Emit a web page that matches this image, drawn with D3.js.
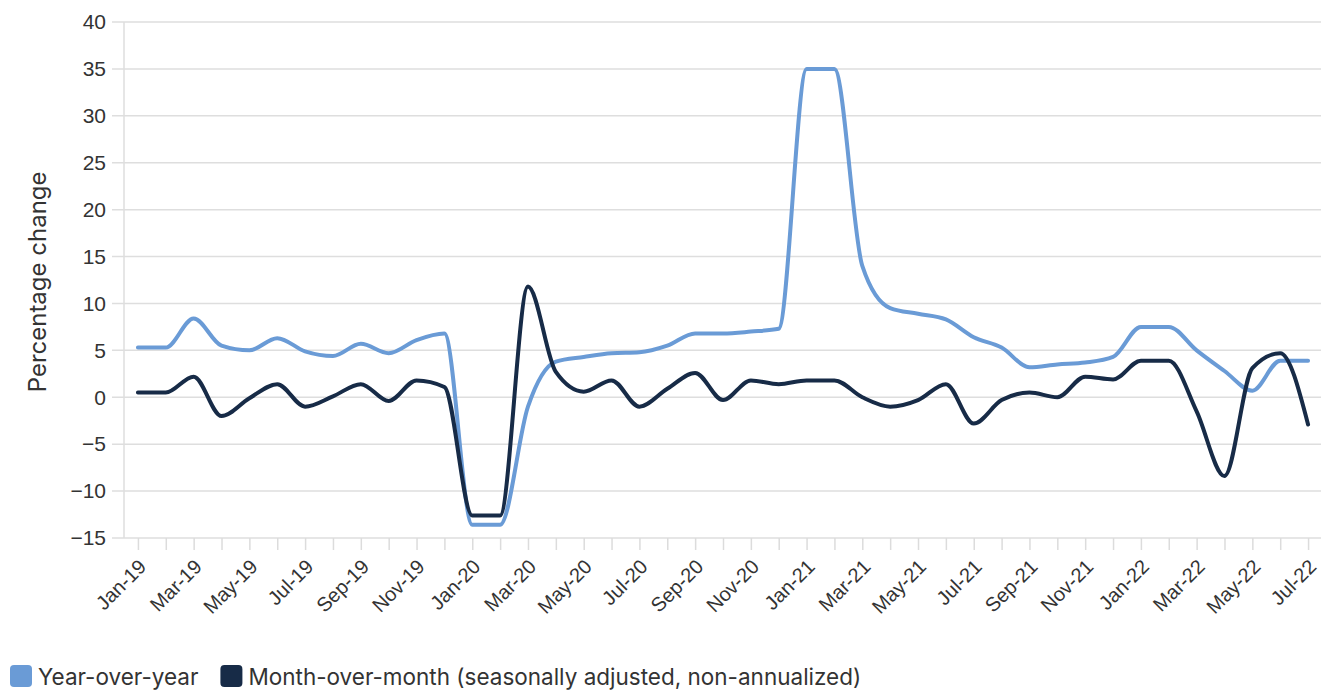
<!DOCTYPE html>
<html>
<head>
<meta charset="utf-8">
<script src="https://cdn.jsdelivr.net/npm/d3@7"></script>
<style>
  html, body { margin: 0; padding: 0; background: #fff; }
  svg { display: block; font-family: Inter, "Noto Sans", sans-serif; }
</style>
</head>
<body>
<svg id="chart" width="1322" height="690"></svg>
<script>
// Monthly CPI-style series, Jan 2019 – Jul 2022
const months = [
  "Jan-19","Feb-19","Mar-19","Apr-19","May-19","Jun-19","Jul-19","Aug-19","Sep-19","Oct-19","Nov-19","Dec-19",
  "Jan-20","Feb-20","Mar-20","Apr-20","May-20","Jun-20","Jul-20","Aug-20","Sep-20","Oct-20","Nov-20","Dec-20",
  "Jan-21","Feb-21","Mar-21","Apr-21","May-21","Jun-21","Jul-21","Aug-21","Sep-21","Oct-21","Nov-21","Dec-21",
  "Jan-22","Feb-22","Mar-22","Apr-22","May-22","Jun-22","Jul-22"
];

const yearOverYear = [
  5.3, 5.3, 8.4, 5.5, 5.0, 6.3, 4.9, 4.4, 5.7, 4.7, 6.1, 6.8,
  -13.6, -13.6, -1.0, 3.8, 4.3, 4.7, 4.8, 5.5, 6.8, 6.8, 7.0, 7.3,
  35.0, 35.0, 14.0, 9.5, 8.9, 8.3, 6.4, 5.3, 3.2, 3.5, 3.7, 4.3,
  7.5, 7.5, 5.0, 2.8, 0.7, 3.9, 3.9
];

const monthOverMonth = [
  0.5, 0.5, 2.2, -2.0, -0.1, 1.4, -1.0, 0.1, 1.4, -0.4, 1.8, 1.1,
  -12.6, -12.6, 11.8, 2.7, 0.6, 1.8, -1.0, 0.9, 2.6, -0.3, 1.8, 1.4,
  1.8, 1.8, 0.0, -1.0, -0.3, 1.4, -2.8, -0.3, 0.5, 0.0, 2.2, 1.9,
  3.9, 3.9, -1.5, -8.4, 3.1, 4.7, -2.9
];

const yTicks = [-15, -10, -5, 0, 5, 10, 15, 20, 25, 30, 35, 40];

const seriesNames = ["Year-over-year", "Month-over-month (seasonally adjusted, non-annualized)"];
const seriesColors = ["#6a9bd6", "#172b47"];

const svg = d3.select("#chart");
const plotLeft = 124, plotRight = 1322, plotTop = 22, plotBottom = 538;

const x = d3.scalePoint().domain(months).range([plotLeft, plotRight]).padding(0.5);
const y = d3.scaleLinear().domain([-15, 40]).range([plotBottom, plotTop]);

// Horizontal gridlines (extend slightly left of the axis like ticks)
svg.append("g")
  .selectAll("line")
  .data(yTicks)
  .join("line")
  .attr("x1", plotLeft - 12)
  .attr("x2", plotRight - 1)
  .attr("y1", d => y(d))
  .attr("y2", d => y(d))
  .attr("stroke", "#dedede")
  .attr("stroke-width", 1.5);

// Y tick labels
const gy = svg.append("g")
  .attr("transform", `translate(${plotLeft - 12},0)`)
  .call(d3.axisLeft(y).tickValues(yTicks).tickSize(0).tickPadding(6).tickFormat(d3.format("d")));
gy.select(".domain").remove();
gy.selectAll("text")
  .attr("fill", "#333")
  .style("font-size", "21px");

// Vertical axis line
svg.append("line")
  .attr("x1", plotLeft).attr("x2", plotLeft)
  .attr("y1", plotTop).attr("y2", plotBottom)
  .attr("stroke", "#dedede")
  .attr("stroke-width", 1.5);

// Bottom axis: a tick every month, label every other month
const xAxis = d3.axisBottom(x)
  .tickSize(12)
  .tickFormat((d, i) => i % 2 === 0 ? d : "");

const gx = svg.append("g")
  .attr("transform", `translate(0,${plotBottom})`)
  .call(xAxis);
gx.select(".domain").remove();
gx.selectAll(".tick line").attr("stroke", "#dcdcdc").attr("stroke-width", 1.5);
gx.selectAll("text")
  .attr("fill", "#333")
  .style("font-size", "20px")
  .attr("text-anchor", "end")
  .attr("x", 0)
  .attr("y", 0)
  .attr("dy", "0.35em")
  .attr("transform", "translate(4,25) rotate(-45)");

// Y axis title
svg.append("text")
  .attr("transform", `translate(46,${y(12.3)}) rotate(-90)`)
  .attr("text-anchor", "middle")
  .attr("fill", "#333")
  .style("font-size", "24px")
  .text("Percentage change");

// Lines
const line = d3.line()
  .x((d, i) => x(months[i]))
  .y(d => y(d))
  .curve(d3.curveMonotoneX);

[yearOverYear, monthOverMonth].forEach((vals, k) => {
  svg.append("path")
    .datum(vals)
    .attr("fill", "none")
    .attr("stroke", seriesColors[k])
    .attr("stroke-width", 4)
    .attr("stroke-linejoin", "round")
    .attr("stroke-linecap", "round")
    .attr("d", line);
});

// Legend
const legend = svg.append("g").attr("transform", "translate(10,665)");
let lx = 0;
seriesNames.forEach((name, k) => {
  const item = legend.append("g").attr("transform", `translate(${lx},0)`);
  item.append("rect")
    .attr("width", 22).attr("height", 22)
    .attr("rx", 4).attr("ry", 4)
    .attr("fill", seriesColors[k]);
  const t = item.append("text")
    .attr("x", 28).attr("y", 20)
    .attr("fill", "#333")
    .style("font-size", "22.5px")
    .text(name);
  lx += 28 + t.node().getComputedTextLength() + 22;
});
</script>
</body>
</html>
